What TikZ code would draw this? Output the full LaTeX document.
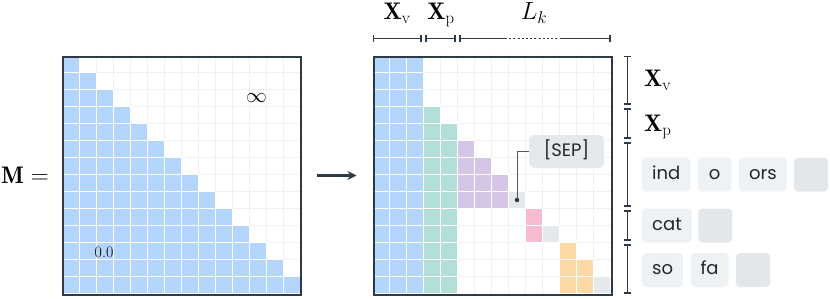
\documentclass[tikz,border=0pt]{standalone}
\usepackage{fontspec}
\newfontfamily\mktokenfont{Poppins}
\usetikzlibrary{arrows.meta,positioning}
\definecolor{mkInk}{HTML}{2F3A44}
\definecolor{mkText}{HTML}{22272C}
\definecolor{mkGrid}{HTML}{EEF0F2}
\definecolor{mkBlue}{HTML}{B3D4FB}
\definecolor{mkGreen}{HTML}{B3DFD9}
\definecolor{mkPurple}{HTML}{D5C6E8}
\definecolor{mkPink}{HTML}{F7BBD0}
\definecolor{mkOrange}{HTML}{FDD9A5}
\definecolor{mkSep}{HTML}{E6E9EC}
\definecolor{mkToken}{HTML}{EFF2F5}
\definecolor{mkEmpty}{HTML}{E4E7EA}
\tikzset{
  mk cell/.style={draw=white, line width=.9pt},
  mk grid/.style={draw=mkGrid, line width=.7pt},
  mk frame/.style={
    draw=mkInk,
    line width=2pt,
    minimum size=238pt,
    inner sep=0pt,
    anchor=north west
  },
  mk arrow/.style={
    draw=mkInk,
    line width=2.2pt,
    -{Stealth[length=9pt,width=9pt]}
  },
  mk span/.style={
    draw=mkInk,
    line width=1.4pt,
    {Bar[width=7pt]}-{Bar[width=7pt]}
  },
  mk math/.style={font=\fontsize{24}{28}\selectfont, text=black, inner sep=0pt},
  mk token/.style={
    fill=mkToken,
    rounded corners=4pt,
    minimum height=34pt,
    minimum width=34pt,
    inner xsep=10pt,
    text height=13pt,
    text depth=3.5pt,
    font=\mktokenfont\fontsize{18}{21}\selectfont,
    text=mkText
  },
  mk empty/.style={mk token, fill=mkEmpty},
  mk callout/.style={mk token, fill=mkSep, rounded corners=5pt, minimum width=75pt, minimum height=33pt},
  mk dot/.style={circle, fill=mkInk, inner sep=1.6pt},
  mk leader/.style={draw=mkInk!85, line width=1pt}
}
\newcommand{\mkcell}[3]{\path[mk cell, fill=#3] (#2*17,#1*17) rectangle ++(17,17);}

\begin{document}
\begin{tikzpicture}[x=1pt,y=-1pt]
  \useasboundingbox (0,0) rectangle (830,298);

  % causal mask
  \begin{scope}[shift={(62,55.5)}]
    \foreach \k in {1,...,13} {
      \draw[mk grid] (\k*17,0) -- (\k*17,238);
      \draw[mk grid] (0,\k*17) -- (238,\k*17);
    }
    \foreach \r in {0,...,13} {
      \foreach \c in {0,...,\r} {\mkcell{\r}{\c}{mkBlue}}
    }
  \end{scope}
  \node[mk frame] (leftmat) at (62,55.5) {};
  \node[mk math, anchor=east] (mlabel) at ([xshift=-13pt]leftmat.west) {$\mathbf{M} =$};
  \node[mk math, font=\fontsize{22}{26}\selectfont] (inf) at (256.5,98.5) {$\infty$};
  \node[font=\fontsize{16}{19}\selectfont, inner sep=0pt] (zero) at (104,252.5) {0.0};

  % packed mask
  \begin{scope}[shift={(372.5,55.5)}]
    \foreach \k in {1,...,13} {
      \draw[mk grid] (\k*17,0) -- (\k*17,238);
      \draw[mk grid] (0,\k*17) -- (238,\k*17);
    }
    \foreach \r in {0,...,13} {
      \foreach \c in {0,1,2} {\mkcell{\r}{\c}{mkBlue}}
    }
    \foreach \r in {3,...,13} {\mkcell{\r}{3}{mkGreen}}
    \foreach \r in {4,...,13} {\mkcell{\r}{4}{mkGreen}}
    \foreach \r/\c in {5/5,6/5,6/6,7/5,7/6,7/7,8/5,8/6,8/7} {\mkcell{\r}{\c}{mkPurple}}
    \foreach \r/\c in {9/9,10/9} {\mkcell{\r}{\c}{mkPink}}
    \foreach \r/\c in {11/11,12/11,12/12,13/11,13/12} {\mkcell{\r}{\c}{mkOrange}}
    \foreach \r/\c in {8/8,10/10,13/13} {\mkcell{\r}{\c}{mkSep}}
  \end{scope}
  \node[mk frame] (rightmat) at (372.5,55.5) {};

  \draw[mk arrow] ([xshift=15pt]leftmat.east) -- ([xshift=-16pt]rightmat.west);

  % [SEP] callout
  \node[mk callout] (sep) at (566.5,151.5) {[SEP]};
  \node[mk dot] (sepdot) at (517,200) {};
  \draw[mk leader] (sepdot) |- (sep.west);

  % column spans
  \coordinate (cv0) at (372.5,38.5);
  \coordinate (cv1) at (421.8,38.5);
  \coordinate (cp0) at (425.2,38.5);
  \coordinate (cp1) at (455.8,38.5);
  \coordinate (ck0) at (459.2,38.5);
  \coordinate (ck1) at (505,38.5);
  \coordinate (ck2) at (561,38.5);
  \coordinate (ck3) at (610.5,38.5);
  \draw[mk span] (cv0) -- (cv1);
  \draw[mk span] (cp0) -- (cp1);
  \draw[mk span, {Bar[width=7pt]}-] (ck0) -- (ck1);
  \draw[mk span, -, dash pattern=on 2pt off 2.2pt] (ck1) -- (ck2);
  \draw[mk span, -{Bar[width=7pt]}] (ck2) -- (ck3);
  \node[mk math, anchor=base] (topv) at (397,19.5) {$\mathbf{X}_{\mathrm{v}}$};
  \node[mk math, anchor=base] (topp) at (441,19.5) {$\mathbf{X}_{\mathrm{p}}$};
  \node[mk math, anchor=base] (topk) at (534,19.5) {$L_k$};

  % row spans
  \coordinate (rv0) at (627.5,55.5);
  \coordinate (rv1) at (627.5,104.8);
  \coordinate (rp0) at (627.5,108.2);
  \coordinate (rp1) at (627.5,138.8);
  \coordinate (ri0) at (627.5,142.2);
  \coordinate (ri1) at (627.5,206.8);
  \coordinate (rc0) at (627.5,210.2);
  \coordinate (rc1) at (627.5,240.8);
  \coordinate (rs0) at (627.5,244.2);
  \coordinate (rs1) at (627.5,293.5);
  \draw[mk span] (rv0) -- (rv1);
  \draw[mk span] (rp0) -- (rp1);
  \draw[mk span] (ri0) -- (ri1);
  \draw[mk span] (rc0) -- (rc1);
  \draw[mk span] (rs0) -- (rs1);
  \node[mk math, anchor=base west] (sidev) at (644,86.5) {$\mathbf{X}_{\mathrm{v}}$};
  \node[mk math, anchor=base west] (sidep) at (644,131.5) {$\mathbf{X}_{\mathrm{p}}$};

  % tokens
  \node[mk token, anchor=west] (ind) at (642,174.5) {ind};
  \node[mk token, right=7pt of ind] (o) {o};
  \node[mk token, right=7pt of o] (ors) {ors};
  \node[mk empty, right=7pt of ors] (sepa) {};
  \node[mk token, anchor=west] (cat) at (642,225.5) {cat};
  \node[mk empty, right=6pt of cat] (sepb) {};
  \node[mk token, anchor=west] (so) at (642,270) {so};
  \node[mk token, right=7pt of so] (fa) {fa};
  \node[mk empty, right=7pt of fa] (sepc) {};
\end{tikzpicture}
\end{document}
